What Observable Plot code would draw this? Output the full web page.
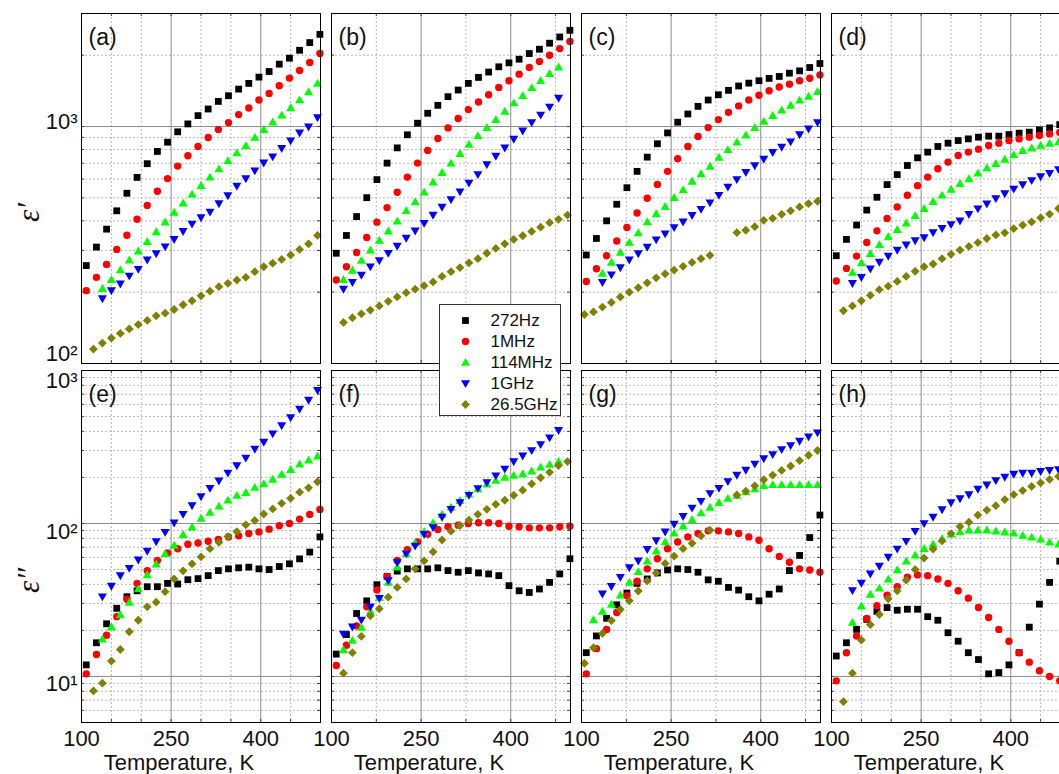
<!DOCTYPE html>
<html><head><meta charset="utf-8">
<script src="https://cdn.jsdelivr.net/npm/d3@7"></script>
<script src="https://cdn.jsdelivr.net/npm/@observablehq/plot@0.6"></script>
<style>
html,body{margin:0;padding:0;background:#fff;overflow:hidden;}
#fig{position:relative;width:1059px;height:774px;overflow:hidden;background:#fff;}
#fig svg{position:absolute;}
</style></head><body><div id="fig"></div>
<script>
// Temperature grids (K)
const T_LF = [108,125,142,159,176,193,210,227,244,261,278,295,312,329,346,363,380,397,414,431,448,465,482,499];
const T_HF = [105,120,135,150,165,180,195,210,225,240,255,270,285,300,315,330,345,360,375,390,405,420,435,450,465,480,495];

const seriesNames = ["272Hz","1MHz","114MHz","1GHz","26.5GHz"];
const seriesColors = ["#000000","#ff0000","#00ff00","#0000ff","#808000"];
const panelLabels = ["(a)","(b)","(c)","(d)","(e)","(f)","(g)","(h)"];
const xTickValues = [100,250,400];
const xMajorGrid = [250,400];
const xMinorFine = [150,200,300,350,450];
const xMinorCoarse = [175,325,475];
const yTopDomain = [100,3000];
const yBotDomain = [5,1000];
const yTopTicks = [100,1000];
const yBotTicks = [10,100,1000];
const yTopMajor = [1000];
const yTopMinor = [200,300,400,500,600,700,800,900,2000];
const yBotMajor = [10,100];
const yBotMinor = [6,7,8,9,20,30,40,50,60,70,80,90,200,300,400,500,600,700,800,900];
const xTitle = "Temperature, K";
const yTitles = ["ε′","ε″"];

// ε' (top row)
const a_272 = [259,310,369,441,523,610,697,785,859,950,1026,1112,1186,1277,1349,1439,1521,1617,1707,1834,1944,2099,2261,2450];
const a_1M = [203,231,262,303,348,406,464,533,603,681,753,824,899,971,1039,1123,1197,1294,1380,1487,1601,1725,1864,2033];
const a_114M = [null,null,207,226,248,273,298,327,359,395,434,475,518,563,611,662,717,773,830,899,971,1043,1116,1198,1294,1399,1521];
const a_1G = [null,null,188,203,217,234,250,274,291,311,334,361,388,413,436,473,511,561,603,651,703,746,809,871,940,997,1091];
const a_26G = [null,115,122,128,134,140,146,152,159,163,169,177,184,193,202,211,218,225,231,244,256,265,275,287,303,320,347];

const b_272 = [292,347,417,501,597,701,813,923,1033,1138,1229,1337,1426,1521,1612,1698,1787,1857,1924,2033,2120,2248,2388,2548];
const b_1M = [225,256,294,340,395,455,528,612,701,793,891,987,1081,1179,1270,1362,1463,1561,1664,1775,1881,2000,2133,2284];
const b_114M = [null,226,247,272,301,331,362,399,441,481,528,583,639,700,768,840,914,990,1070,1159,1257,1349,1458,1561,1671,1782,null];
const b_1G = [null,206,220,236,256,272,292,313,338,363,391,423,457,492,531,578,628,692,750,813,885,959,1040,1119,1210,1319,null];
const b_26G = [null,149,156,162,168,175,183,191,199,206,213,221,233,244,254,266,277,292,306,320,334,346,361,376,393,406,423];

const c_272 = [287,337,400,470,552,647,743,846,940,1043,1130,1217,1294,1362,1422,1483,1525,1561,1597,1627,1680,1718,1775,1845];
const c_1M = [222,251,285,329,375,432,498,570,647,731,824,908,990,1070,1148,1222,1294,1355,1416,1469,1510,1561,1600,1652];
const c_114M = [null,null,240,267,294,324,356,396,428,459,501,540,587,631,679,741,798,859,920,990,1052,1112,1172,1229,1291,1340,1403];
const c_1G = [null,null,220,237,254,274,291,310,333,353,375,396,422,448,477,513,556,598,641,684,729,778,819,863,925,978,1040];
const c_26G = [161,165,173,181,191,200,209,219,230,239,248,257,267,277,286,null,null,357,365,378,402,410,426,441,458,473,484];

const d_272 = [285,334,384,444,503,569,627,685,738,780,824,851,873,887,902,911,911,925,938,947,968,987,1019,1045];
const d_1M = [223,252,284,324,363,409,458,513,563,612,664,708,755,780,803,832,851,873,887,902,917,931,944,955];
const d_114M = [null,null,242,266,291,317,342,367,391,420,450,482,513,543,574,601,635,668,697,727,760,791,811,832,849,862,873];
const d_1G = [null,null,218,231,251,268,284,301,317,330,340,357,372,386,400,426,450,472,497,521,545,569,592,615,635,659,685];
const d_26G = [null,167,175,184,194,205,212,222,233,245,256,263,277,289,301,312,324,337,349,356,371,384,396,412,427,451,470];

// ε'' (bottom row)
const e_272 = [11.9,16.6,22.1,27.9,33.2,36.3,38.6,38.6,40.6,40.2,42.9,43.6,45.6,49.2,50.5,51.3,51.8,50.5,50.0,52.3,54.5,58.7,65.0,81.7];
const e_1M = [10.4,13.9,18.6,24.6,32.0,40.6,49.2,57.3,64.1,68.4,73.1,74.6,76.5,78.5,81.7,83.0,85.9,88.1,91.8,96.6,100,106.8,114.6,123.6];
const e_114M = [null,null,17.5,21.1,25.2,30.5,37.3,46.1,54.2,63.4,71.9,84.6,94.6,107.9,118.2,129.5,141.8,152.2,159.2,171.8,181.6,194.0,209.4,224.9,243.8,258.9,275.3];
const e_1G = [null,null,33.2,39.0,45.6,51.0,57.9,66.0,76.1,87.7,101,115,131,150,170,190,214,239,268,306,340,386,436,492,559,641,742];
const e_26G = [null,8.04,9.04,12.6,15.0,19.6,23.3,28.5,30.6,35.8,43.4,49.0,54.5,60.5,68.4,75.3,82.1,88.5,98.0,104.7,115.3,124.4,135.5,146.2,160.1,171.0,187.4];

const f_272 = [14.0,18.8,25.8,31.2,39.8,45.0,48.8,50.5,50.5,50.5,51.3,49.2,48.0,49.2,47.5,46.8,45.6,39.2,36.3,35.4,37.3,41.2,46.8,58.8];
const f_1M = [11.8,16.0,21.4,28.5,36.7,45.0,57.3,67.4,75.7,85.1,91.3,95.1,97.5,100,101,101,100,96.0,95.1,93.6,93.6,93.6,95.1,96.0];
const f_114M = [null,14.9,17.2,20.9,26.6,32.7,41.2,51.8,63.4,74.6,88.5,101,114.6,127.5,141.1,155.3,168.4,180.8,191.0,200,206,211,220,233,243,254,null];
const f_1G = [null,18.9,21.1,23.4,28.5,32.4,42.3,55.6,63.4,71.3,85.1,94.2,110.1,123.7,136.9,152.9,169.3,185.4,205.2,227.1,253.6,276.5,299.9,328.3,363.4,406,null];
const f_26G = [null,10.5,14.3,18.3,24.9,27.7,33.0,38.2,43.4,50.5,57.0,65.3,78.0,89.0,97.0,105.2,114.7,123.7,133.4,141.8,152.9,165.0,181.6,199,216,239,254];

const g_272 = [14.3,18.4,24.0,29.4,35.1,40.6,43.4,47.5,49.7,50.5,50.0,48.0,42.8,41.9,38.2,36.7,33.2,31.2,34.5,37.3,49.2,61.8,80.9,113.5];
const g_1M = [10.4,15.2,20.3,26.2,33.7,41.9,50.5,58.8,68.4,75.7,81.7,85.9,89.5,89.5,88.1,85.9,81.7,77.6,68.4,60.9,55.8,50.5,49.7,48.0];
const g_114M = [null,23.4,26.6,29.6,34.0,41.2,48.3,56.7,65.9,75.7,86.3,96.0,105.7,117.0,127.5,136.9,145.5,152.2,160.9,168.4,176.3,179,179,179,179,179,179];
const g_1G = [null,null,34.7,38.8,44.5,51.5,57.0,67.7,77.3,88.1,99.0,111.2,126.2,139.7,157.0,170.1,188.3,207.2,223.5,244.8,265.5,282.5,304.5,323.6,345.4,369.0,392];
const g_26G = [12.2,15.4,19.1,23.2,27.4,31.2,36.2,42.1,47.5,54.8,61.2,68.4,74.2,83.0,90.4,null,null,153.7,162.6,176.3,193.1,207.2,222.3,237.6,257.6,279.3,299.9];

const h_272 = [13.6,16.6,20.3,23.6,26.6,28.2,27.1,27.5,27.5,24.6,23.3,19.3,17.0,14.3,12.9,10.4,10.6,11.9,14.3,21.0,29.7,41.2,56.7,78];
const h_1M = [9.36,14.3,18.4,23.9,29.0,34.0,38.6,44.5,46.1,45.6,43.4,40.6,36.3,32.5,28.2,24.3,20.3,17.0,14.3,12.4,10.9,10.0,9.36,8.5];
const h_114M = [null,null,22.5,28.8,34.4,37.7,43.2,49.7,56.7,62.1,68.4,73.4,79.6,85.1,88.1,90.4,90.4,90.4,89.0,87.7,86.3,83.4,81.2,78.8,75.3,73.1,70.9];
const h_1G = [null,null,36.5,40.8,46.8,52.6,60.3,68.1,76.5,89.0,100,110.1,123.1,136.9,145.5,154.5,167.6,179.0,191.1,201.0,210.4,213.6,213.6,219.1,222.3,224.8,224.8];
const h_26G = [null,6.84,10.5,17.3,21.8,25.4,32.2,36.3,42.6,50.0,59.4,68.1,76.9,85.9,95.5,102.0,113.5,122.4,130.7,143.2,154.5,164.2,174.6,184.5,194.1,203.1,211.4];

const panelSeries = [
  [a_272,a_1M,a_114M,a_1G,a_26G],
  [b_272,b_1M,b_114M,b_1G,b_26G],
  [c_272,c_1M,c_114M,c_1G,c_26G],
  [d_272,d_1M,d_114M,d_1G,d_26G],
  [e_272,e_1M,e_114M,e_1G,e_26G],
  [f_272,f_1M,f_114M,f_1G,f_26G],
  [g_272,g_1M,g_114M,g_1G,g_26G],
  [h_272,h_1M,h_114M,h_1G,h_26G]
];
const seriesGrid = [T_LF,T_LF,T_HF,T_HF,T_HF];

// marker shapes
const symbols = [
  {draw(c){ const s=3.4; c.rect(-s,-s,2*s,2*s); }},
  {draw(c){ const r=3.7; c.moveTo(r,0); c.arc(0,0,r,0,2*Math.PI); }},
  {draw(c){ c.moveTo(0,-4.6); c.lineTo(4.5,3.3); c.lineTo(-4.5,3.3); c.closePath(); }},
  {draw(c){ c.moveTo(0,4.6); c.lineTo(4.5,-3.3); c.lineTo(-4.5,-3.3); c.closePath(); }},
  {draw(c){ const s=4.4; c.moveTo(0,-s); c.lineTo(s,0); c.lineTo(0,s); c.lineTo(-s,0); c.closePath(); }}
];

const colLeft = [81,331,581,831];
const rowTop = [13,370];
const rowBottom = [363,722];
const frameW = 239;
const sup = {1:"¹",2:"²",3:"³"};
const fig = document.getElementById("fig");
const FONT = '"Liberation Sans", Arial, Helvetica, sans-serif';
const minorStyle = {stroke:"#b9b9b9", strokeWidth:1, strokeDasharray:"2,2"};
const majorStyle = {stroke:"#8c8c8c", strokeWidth:1};
const tickStyle = {stroke:"#444", strokeWidth:1};
const expFormat = d => "10" + sup[Math.round(Math.log10(d))];

for (let p = 0; p < 8; p++) {
  const row = p < 4 ? 0 : 1, col = p % 4;
  const mL = col === 0 ? 81 : 2, mR = 2;
  const mT = 12, mB = row === 1 ? 52 : 4;
  const frameH = rowBottom[row] - rowTop[row];
  const yDomain = row === 0 ? yTopDomain : yBotDomain;
  const yMajor = row === 0 ? yTopMajor : yBotMajor;
  const yMinor = row === 0 ? yTopMinor : yBotMinor;
  const xMinor = (col === 0 || col === 3) ? xMinorFine : xMinorCoarse;
  const yAllTicks = yMajor.concat(yMinor);
  const xAllTicks = xMajorGrid.concat(xMinor);
  const marks = [
    Plot.ruleY(yMinor, minorStyle),
    Plot.ruleX(xMinor, minorStyle),
    Plot.ruleY(yMajor, majorStyle),
    Plot.ruleX(xMajorGrid, majorStyle),
    Plot.ruleY(yAllTicks, {...tickStyle, insetRight: frameW - 3}),
    Plot.ruleY(yAllTicks, {...tickStyle, insetLeft: frameW - 3}),
    Plot.ruleX(xAllTicks, {...tickStyle, insetBottom: frameH - 3}),
    Plot.ruleX(xAllTicks, {...tickStyle, insetTop: frameH - 3})
  ];
  panelSeries[p].forEach((vals, k) => {
    const grid = seriesGrid[k];
    const rows = grid.map((t, i) => ({T: t, v: vals[i]})).filter(d => d.v != null);
    marks.push(Plot.dot(rows, {x: "T", y: "v", symbol: symbols[k], fill: seriesColors[k], stroke: "none", r: 4}));
  });
  marks.push(Plot.frame({stroke: "#000", strokeWidth: 1}));
  marks.push(Plot.text([panelLabels[p]], {text: d => d, frameAnchor: "top-left", dx: 7, dy: 24, textAnchor: "start", lineAnchor: "middle", fontSize: 23, fill: "#111"}));
  if (col === 0) {
    if (row === 0) {
      marks.push(Plot.axisY({ticks: [1000], tickFormat: expFormat, tickSize: 0, tickPadding: 4, fontSize: 22, dy: -5, label: null}));
      marks.push(Plot.axisY({ticks: [100], tickFormat: expFormat, tickSize: 0, tickPadding: 4, fontSize: 22, dy: -10, label: null}));
    } else {
      marks.push(Plot.axisY({ticks: [1000], tickFormat: expFormat, tickSize: 0, tickPadding: 4, fontSize: 22, dy: 10, label: null}));
      marks.push(Plot.axisY({ticks: [10, 100], tickFormat: expFormat, tickSize: 0, tickPadding: 4, fontSize: 22, dy: 8, label: null}));
    }
    marks.push(Plot.text([yTitles[row]], {text: d => d, frameAnchor: "left", dx: -52, dy: row === 0 ? 24 : 34, rotate: -90, fontSize: 31, fontStyle: "italic", fontFamily: '"Liberation Serif", "DejaVu Serif", serif', textAnchor: "middle", lineAnchor: "middle"}));
  }
  if (row === 1) {
    marks.push(Plot.axisX({ticks: xTickValues, tickSize: 0, tickPadding: 8, fontSize: 22, label: null}));
    marks.push(Plot.text([xTitle], {text: d => d, frameAnchor: "bottom", dx: -22, dy: 40, lineAnchor: "middle", fontSize: 22}));
  }
  const svg = Plot.plot({
    width: frameW + mL + mR,
    height: frameH + mT + mB,
    marginLeft: mL, marginRight: mR, marginTop: mT, marginBottom: mB,
    x: {type: "linear", domain: [100, 500], axis: null},
    y: {type: "log", domain: yDomain, axis: null},
    style: {background: "transparent", overflow: "visible", fontFamily: FONT, fontSize: "22px", color: "#111"},
    marks
  });
  svg.style.left = (colLeft[col] - mL) + "px";
  svg.style.top = (rowTop[row] - mT) + "px";
  svg.style.maxWidth = "none";
  fig.appendChild(svg);
}

// legend
const legendRows = seriesNames.map((name, k) => ({name, k}));
const legendMarks = [Plot.frame({stroke: "#333", fill: "white", strokeWidth: 1})];
legendRows.forEach(r => {
  legendMarks.push(Plot.dot([r], {x: () => 26, y: "name", symbol: symbols[r.k], fill: seriesColors[r.k], stroke: "none", r: 4}));
});
legendMarks.push(Plot.text(legendRows, {x: () => 51, y: "name", text: "name", textAnchor: "start", fontSize: 17, fill: "#111"}));
const legend = Plot.plot({
  width: 121, height: 111, margin: 0,
  x: {type: "linear", domain: [0, 121], range: [0, 121], axis: null},
  y: {type: "point", domain: seriesNames, range: [15, 100.3], padding: 0, axis: null},
  style: {background: "transparent", overflow: "visible", fontFamily: FONT},
  marks: legendMarks
});
legend.style.left = "439px";
legend.style.top = "304px";
fig.appendChild(legend);
</script>
</body></html>
